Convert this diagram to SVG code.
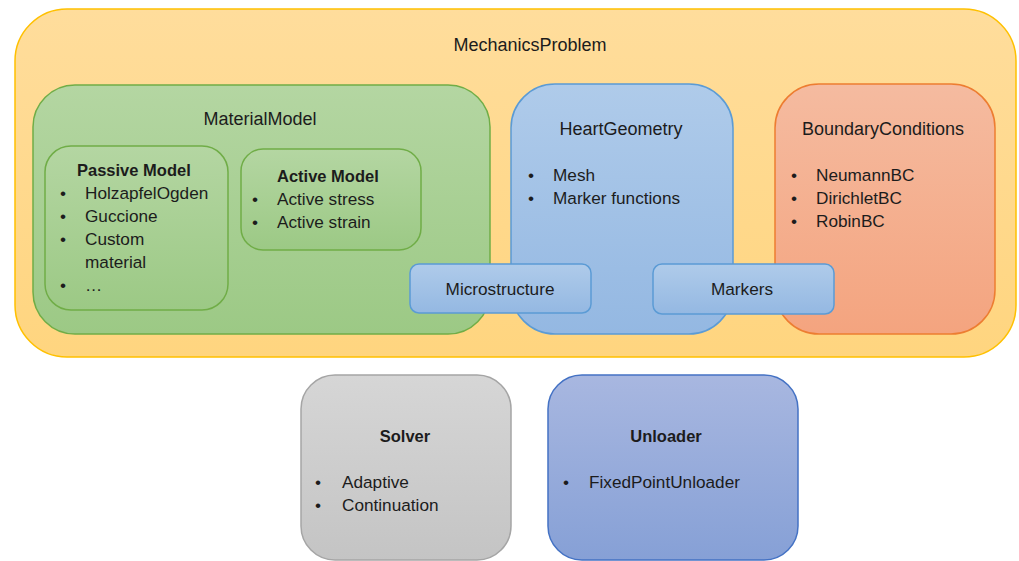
<svg xmlns="http://www.w3.org/2000/svg" width="1019" height="561" viewBox="0 0 1019 561">
<style>
text{font-family:"Liberation Sans",Arial,sans-serif;fill:#1c1c1c;font-size:17.2px}
.t{font-size:18px}
.b{font-weight:bold;font-size:16.5px}
.c{text-anchor:middle}
.yel{fill:url(#gY);stroke:#FFC000;stroke-width:1.5}
.grn{fill:url(#gG);stroke:#70AD47;stroke-width:1.5}
.blu{fill:url(#gB);stroke:#5B9BD5;stroke-width:1.5}
.org{fill:url(#gO);stroke:#ED7D31;stroke-width:1.5}
.gry{fill:url(#gR);stroke:#A5A5A5;stroke-width:1.5}
.ind{fill:url(#gI);stroke:#4472C4;stroke-width:1.5}
</style>
<defs>
<linearGradient id="gY" x1="0" y1="0" x2="0" y2="1"><stop offset="0" stop-color="#FFDD9C"/><stop offset="1" stop-color="#FFD57F"/></linearGradient>
<linearGradient id="gG" x1="0" y1="0" x2="0" y2="1"><stop offset="0" stop-color="#B4D6A2"/><stop offset="1" stop-color="#9CC985"/></linearGradient>
<linearGradient id="gB" x1="0" y1="0" x2="0" y2="1"><stop offset="0" stop-color="#AFCBEA"/><stop offset="1" stop-color="#94B8E2"/></linearGradient>
<linearGradient id="gO" x1="0" y1="0" x2="0" y2="1"><stop offset="0" stop-color="#F5BBA0"/><stop offset="1" stop-color="#F4A47F"/></linearGradient>
<linearGradient id="gR" x1="0" y1="0" x2="0" y2="1"><stop offset="0" stop-color="#D6D6D6"/><stop offset="1" stop-color="#C4C4C4"/></linearGradient>
<linearGradient id="gI" x1="0" y1="0" x2="0" y2="1"><stop offset="0" stop-color="#A8B7E0"/><stop offset="1" stop-color="#86A0D6"/></linearGradient>
</defs>
<g id="mechanicsProblem">
<rect class="yel" x="15" y="9" width="1001" height="348" rx="52"/>
<text class="t c" x="530" y="51">MechanicsProblem</text>
</g>
<g id="materialModel">
<rect class="grn" x="33" y="85" width="457" height="249" rx="42"/>
<text class="t c" x="260" y="125">MaterialModel</text>
</g>
<g id="passiveModel">
<rect class="grn" x="45" y="146" width="183" height="164" rx="26"/>
<text class="b" x="77" y="176">Passive Model</text>
<text x="60" y="199">•</text><text x="85" y="199">HolzapfelOgden</text>
<text x="60" y="222">•</text><text x="85" y="222">Guccione</text>
<text x="60" y="245">•</text><text x="85" y="245">Custom</text>
<text x="85" y="268">material</text>
<text x="60" y="291">•</text><text x="85" y="291">…</text>
</g>
<g id="activeModel">
<rect class="grn" x="241" y="149" width="180" height="101" rx="22"/>
<text class="b" x="277" y="182">Active Model</text>
<text x="252" y="205">•</text><text x="277" y="205">Active stress</text>
<text x="252" y="228">•</text><text x="277" y="228">Active strain</text>
</g>
<g id="heartGeometry">
<rect class="blu" x="511" y="84" width="222" height="250" rx="44"/>
<text class="t c" x="621" y="135">HeartGeometry</text>
<text x="528" y="181">•</text><text x="553" y="181">Mesh</text>
<text x="528" y="204">•</text><text x="553" y="204">Marker functions</text>
</g>
<g id="boundaryConditions">
<rect class="org" x="775" y="84" width="220" height="250" rx="44"/>
<text class="t c" x="883" y="135">BoundaryConditions</text>
<text x="791" y="181">•</text><text x="816" y="181">NeumannBC</text>
<text x="791" y="204">•</text><text x="816" y="204">DirichletBC</text>
<text x="791" y="227">•</text><text x="816" y="227">RobinBC</text>
</g>
<g id="microstructure">
<rect class="blu" x="410" y="264" width="181" height="49" rx="9"/>
<text class="c" x="500" y="295">Microstructure</text>
</g>
<g id="markers">
<rect class="blu" x="653" y="264" width="181" height="50" rx="9"/>
<text class="c" x="742" y="295">Markers</text>
</g>
<g id="solver">
<rect class="gry" x="301" y="375" width="210" height="185" rx="34"/>
<text class="b c" x="405" y="442">Solver</text>
<text x="315" y="488">•</text><text x="342" y="488">Adaptive</text>
<text x="315" y="511">•</text><text x="342" y="511">Continuation</text>
</g>
<g id="unloader">
<rect class="ind" x="548" y="375" width="250" height="185" rx="34"/>
<text class="b c" x="666" y="442">Unloader</text>
<text x="563" y="488">•</text><text x="589" y="488">FixedPointUnloader</text>
</g>
<g id="connectors"></g>
</svg>
